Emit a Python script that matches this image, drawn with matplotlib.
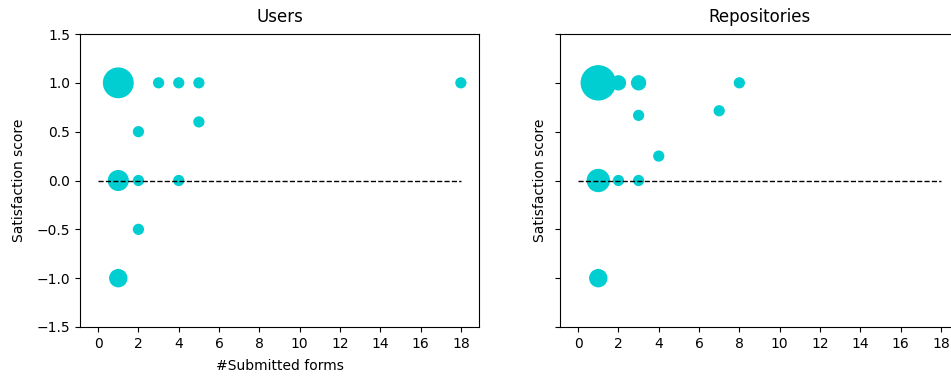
import matplotlib
matplotlib.use("Agg")
import matplotlib.pyplot as plt

# Users: number of submitted forms vs satisfaction score, marker area ~ count
users_forms = [1, 3, 4, 5, 18, 2, 5, 1, 2, 4, 2, 1]
users_score = [1.0, 1.0, 1.0, 1.0, 1.0, 0.5, 0.6, 0.0, 0.0, 0.0, -0.5, -1.0]
users_count = [9, 1, 1, 1, 1, 1, 1, 4, 1, 1, 1, 3]

# Repositories
repos_forms = [1, 2, 3, 8, 3, 7, 4, 1, 2, 3, 1]
repos_score = [1.0, 1.0, 1.0, 1.0, 0.667, 0.714, 0.25, 0.0, 0.0, 0.0, -1.0]
repos_count = [12, 2, 2, 1, 1, 1, 1, 5, 1, 1, 3]

titles = ["Users", "Repositories"]
yticks = [-1.5, -1.0, -0.5, 0.0, 0.5, 1.0, 1.5]
xticks = list(range(0, 19, 2))

fig = plt.figure(figsize=(9.51, 3.76), dpi=100)
ax1 = fig.add_axes([80 / 951, 49 / 376, 399 / 951, 293 / 376])
ax2 = fig.add_axes([560 / 951, 49 / 376, 399 / 951, 293 / 376], sharey=ax1)

color = "darkturquoise"
for ax, xs, ys, cs, title, ypad in [
    (ax1, users_forms, users_score, users_count, titles[0], 7.5),
    (ax2, repos_forms, repos_score, repos_count, titles[1], 6.0),
]:
    ax.scatter(xs, ys, s=[50 * c for c in cs], color=color, zorder=2)
    ax.hlines(0, 0, 18, colors="black", linestyles="dashed", linewidth=1, zorder=3)
    ax.set_title(title, pad=8.5)
    ax.set_ylabel("Satisfaction score", labelpad=ypad)
    ax.set_xticks(xticks)
    ax.set_xlim(-0.9, 18.9)

ax1.set_ylim(-1.5, 1.5)
ax1.set_yticks(yticks)
ax1.set_xlabel("#Submitted forms", labelpad=6)
plt.setp(ax2.get_yticklabels(), visible=False)

fig.savefig("out.png", dpi=100)
